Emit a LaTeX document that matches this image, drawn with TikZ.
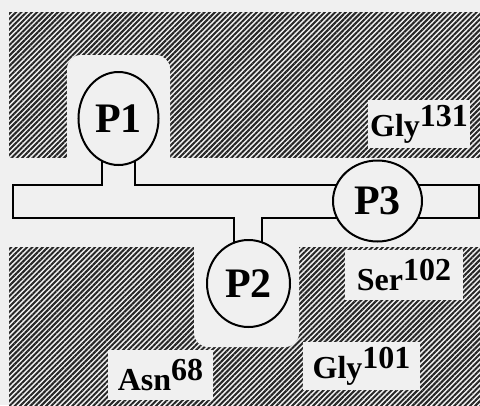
\documentclass[tikz,border=0pt]{standalone}
\usepackage{fontspec}
\setmainfont{Liberation Serif}
\usetikzlibrary{patterns.meta,shapes.geometric}
\newcommand{\reslab}[2]{#1\raisebox{10pt}{#2}}
\begin{document}
\begin{tikzpicture}[x=1pt,y=-1pt,
  hatch/.style={pattern={Lines[angle=45,distance=3.7pt,line width=2pt]},pattern color=black!85},
  bgfill/.style={fill=white!94!black},
  notch/.style={bgfill,rounded corners=14pt},
  chan/.style={bgfill,draw=black,line width=2pt,line join=miter},
  pore/.style={ellipse,draw=black,line width=2pt,bgfill,inner sep=0pt,
    font=\bfseries\fontsize{42}{42}\selectfont},
  lab/.style={bgfill,inner sep=0pt,font=\bfseries\fontsize{32}{32}\selectfont}
]
\useasboundingbox (0,0) rectangle (480,405);
\fill[bgfill] (0,0) rectangle (480,405);
% hatched protein regions
\fill[hatch] (9,12) rectangle (480,157);
\fill[hatch] (9,247) rectangle (480,405);
% white pockets around P1 and P2
\fill[notch] (67,55) rectangle (170,180);
\fill[notch] (194,195) rectangle (299,347);
% residue labels
\node[lab,minimum width=102pt,minimum height=48pt] (g131) at (419,124) {\reslab{Gly}{131}};
\node[lab,minimum width=118pt,minimum height=50pt] (s102) at (404,275) {\reslab{Ser}{102}};
\node[lab,minimum width=117pt,minimum height=48pt] (g101) at (361.5,366) {\reslab{Gly}{101}};
\node[lab,minimum width=105pt,minimum height=50pt] (a68) at (160.5,375) {\reslab{Asn}{68}};
% channel with stems
\draw[chan] (13,185) -- (102,185) -- (102,150) -- (135,150) -- (135,185)
  -- (479,185) -- (479,218) -- (262,218) -- (262,255) -- (234,255)
  -- (234,218) -- (13,218) -- cycle;
% pores
\node[pore,minimum width=80pt,minimum height=93pt] (p1) at (118.5,118.5) {P1};
\node[pore,minimum width=83pt,minimum height=87pt] (p2) at (248.5,283.5) {P2};
\node[pore,minimum width=89pt,minimum height=81pt] (p3) at (377.5,201) {P3};
\end{tikzpicture}
\end{document}
